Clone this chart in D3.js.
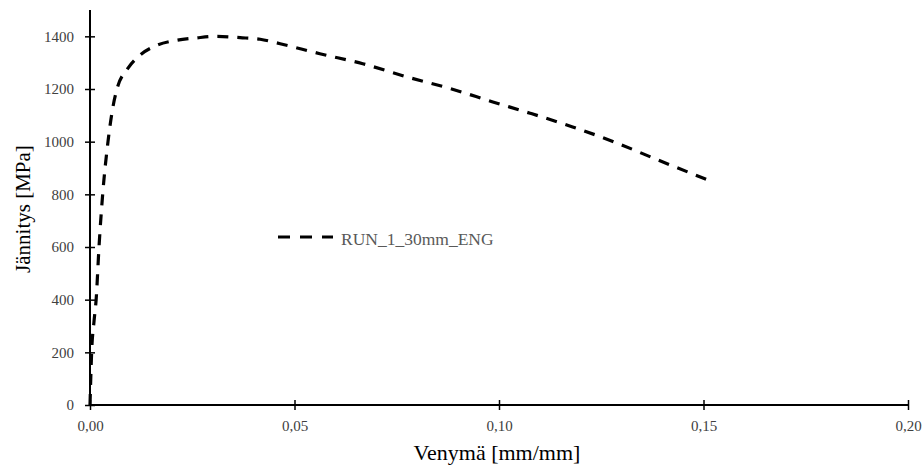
<!DOCTYPE html>
<html><head><meta charset="utf-8">
<script src="https://cdn.jsdelivr.net/npm/d3@7"></script>
<style>body{margin:0;background:#fff}</style>
</head><body>
<svg id="c" width="924" height="466"></svg>
<script>
const strain = [0, 0.0004, 0.0010, 0.0015, 0.0022, 0.0031, 0.0044, 0.0056, 0.0066, 0.0093, 0.0122, 0.0164, 0.0212, 0.0260, 0.0310, 0.0367, 0.0416, 0.0465, 0.0562, 0.0667, 0.0775, 0.0880, 0.0985, 0.1076, 0.1180, 0.1280, 0.1377, 0.1516];
const stress = [0, 200, 320, 400, 600, 800, 1000, 1131, 1200, 1279, 1328, 1366, 1385, 1394, 1400, 1395, 1389, 1372, 1334, 1296, 1246, 1202, 1151, 1108, 1056, 1000, 938, 851];
const xTicks = [0, 0.05, 0.10, 0.15, 0.20];
const yTicks = [0, 200, 400, 600, 800, 1000, 1200, 1400];
const seriesName = "RUN_1_30mm_ENG";
const xTitle = "Venymä [mm/mm]";
const yTitle = "Jännitys [MPa]";

const svg = d3.select("#c");
const font = "Liberation Serif, Times New Roman, serif";
const x = d3.scaleLinear().domain([0, 0.20]).range([90, 908]);
const y = d3.scaleLinear().domain([0, 1500]).range([405, 10]);

// axes
const xa = svg.append("g").attr("transform", "translate(0,405)")
  .call(d3.axisBottom(x).tickValues(xTicks).tickSize(0).tickPadding(15)
    .tickFormat(d => d3.format(".2f")(d).replace(".", ",")));
xa.attr("font-family", font).attr("font-size", 15);
xa.select(".domain").attr("stroke", "#000").attr("stroke-width", 2).attr("d", `M${x(0)},0H${x(0.2)}`);
xa.selectAll(".tick line").attr("y1", -5).attr("y2", 5).attr("stroke", "#000").attr("stroke-width", 1.5);
xa.selectAll("text").attr("fill", "#404040");

const ya = svg.append("g").attr("transform", "translate(90,0)")
  .call(d3.axisLeft(y).tickValues(yTicks).tickSize(0).tickPadding(16).tickFormat(d3.format("d")));
ya.attr("font-family", font).attr("font-size", 15);
ya.select(".domain").attr("stroke", "#000").attr("stroke-width", 2).attr("d", `M0,${y(0)}V${y(1500)}`);
ya.selectAll(".tick line").attr("x1", -5).attr("x2", 5).attr("stroke", "#000").attr("stroke-width", 1.5);
ya.selectAll("text").attr("fill", "#404040");

// line
const data = strain.map((s, i) => [s, stress[i]]);
svg.append("path").datum(data)
  .attr("d", d3.line().x(d => x(d[0])).y(d => y(d[1])).curve(d3.curveMonotoneX))
  .attr("fill", "none").attr("stroke", "#000").attr("stroke-width", 3.2)
  .attr("stroke-dasharray", "11,9");

// legend
svg.append("line").attr("x1", 278).attr("x2", 333).attr("y1", 237).attr("y2", 237)
  .attr("stroke", "#000").attr("stroke-width", 3.2).attr("stroke-dasharray", "12,10");
svg.append("text").attr("x", 341).attr("y", 245).text(seriesName)
  .attr("font-family", font).attr("font-size", 17.5).attr("fill", "#595959");

// titles
svg.append("text").attr("x", 497).attr("y", 460).attr("text-anchor", "middle")
  .attr("font-family", font).attr("font-size", 22).attr("fill", "#000").text(xTitle);
svg.append("text").attr("transform", "translate(30,209) rotate(-90)").attr("text-anchor", "middle")
  .attr("font-family", font).attr("font-size", 21).attr("fill", "#000").text(yTitle);
</script>
</body></html>
